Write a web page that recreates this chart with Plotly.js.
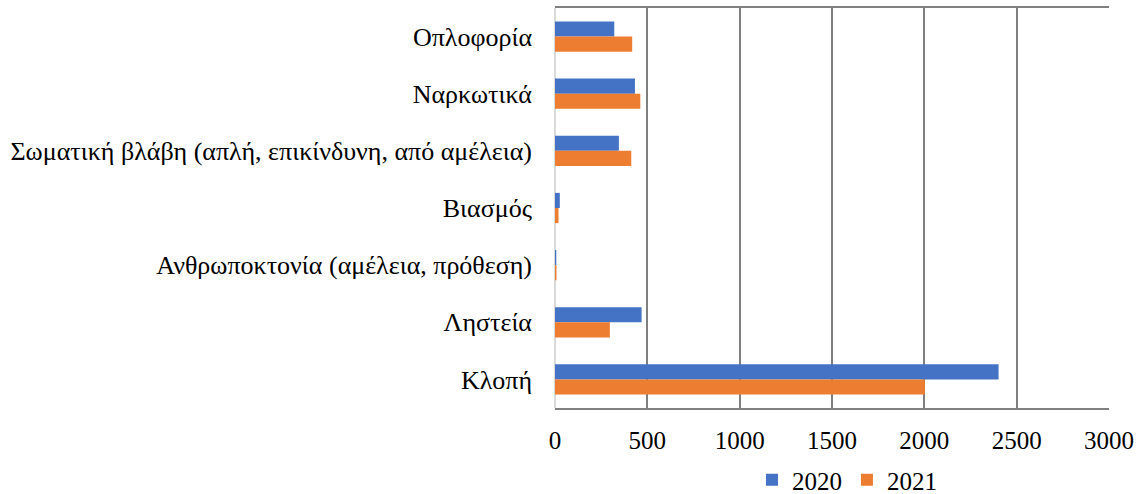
<!DOCTYPE html>
<html>
<head>
<meta charset="utf-8">
<script src="https://cdn.plot.ly/plotly-3.0.1.min.js"></script>
<style>
html,body{margin:0;padding:0;background:#fff;}
#chart{width:1142px;height:494px;}
</style>
</head>
<body>
<div id="chart"></div>
<script>
const categories = [
  "Οπλοφορία",
  "Ναρκωτικά",
  "Σωματική βλάβη (απλή, επικίνδυνη, από αμέλεια)",
  "Βιασμός",
  "Ανθρωποκτονία (αμέλεια, πρόθεση)",
  "Ληστεία",
  "Κλοπή"
];
const values2020 = [321, 433, 346, 26, 7, 469, 2402];
const values2021 = [418, 462, 413, 19, 8, 297, 2003];
const xTicks = [0, 500, 1000, 1500, 2000, 2500, 3000];

function mkFont(sz) { return {family: "Liberation Serif", size: sz, color: "#000000"}; }

const data = [
  {type: "bar", orientation: "h", name: "2020", y: categories, x: values2020,
   marker: {color: "#4472C4"}},
  {type: "bar", orientation: "h", name: "2021", y: categories, x: values2021,
   marker: {color: "#ED7D31"}}
];

const layout = {
  width: 1142, height: 494,
  margin: {l: 555, r: 33, t: 8, b: 86, autoexpand: false},
  paper_bgcolor: "#ffffff", plot_bgcolor: "#ffffff",
  font: mkFont(25),
  barmode: "group",
  bargap: 0.47,
  bargroupgap: 0,
  xaxis: {
    range: [0, 3000], tickvals: xTicks, ticktext: xTicks.map(String),
    showgrid: true, gridcolor: "#7f7f7f", gridwidth: 2,
    zeroline: true, zerolinecolor: "#d9d9d9", zerolinewidth: 2,
    showline: true, linecolor: "#7f7f7f", linewidth: 2, mirror: true,
    ticks: "", ticklabelstandoff: 9, fixedrange: true, automargin: false,
    tickfont: mkFont(25)
  },
  yaxis: {
    autorange: "reversed", type: "category",
    showgrid: false, zeroline: false, showline: false,
    ticks: "", ticklabelstandoff: 22, fixedrange: true, automargin: false,
    tickfont: mkFont(26)
  },
  showlegend: true,
  legend: {orientation: "h", x: 0.527, xanchor: "center", y: -0.18, yanchor: "middle",
           font: mkFont(25), traceorder: "normal"}
};

Plotly.newPlot("chart", data, layout, {displayModeBar: false, staticPlot: true});
</script>
</body>
</html>
